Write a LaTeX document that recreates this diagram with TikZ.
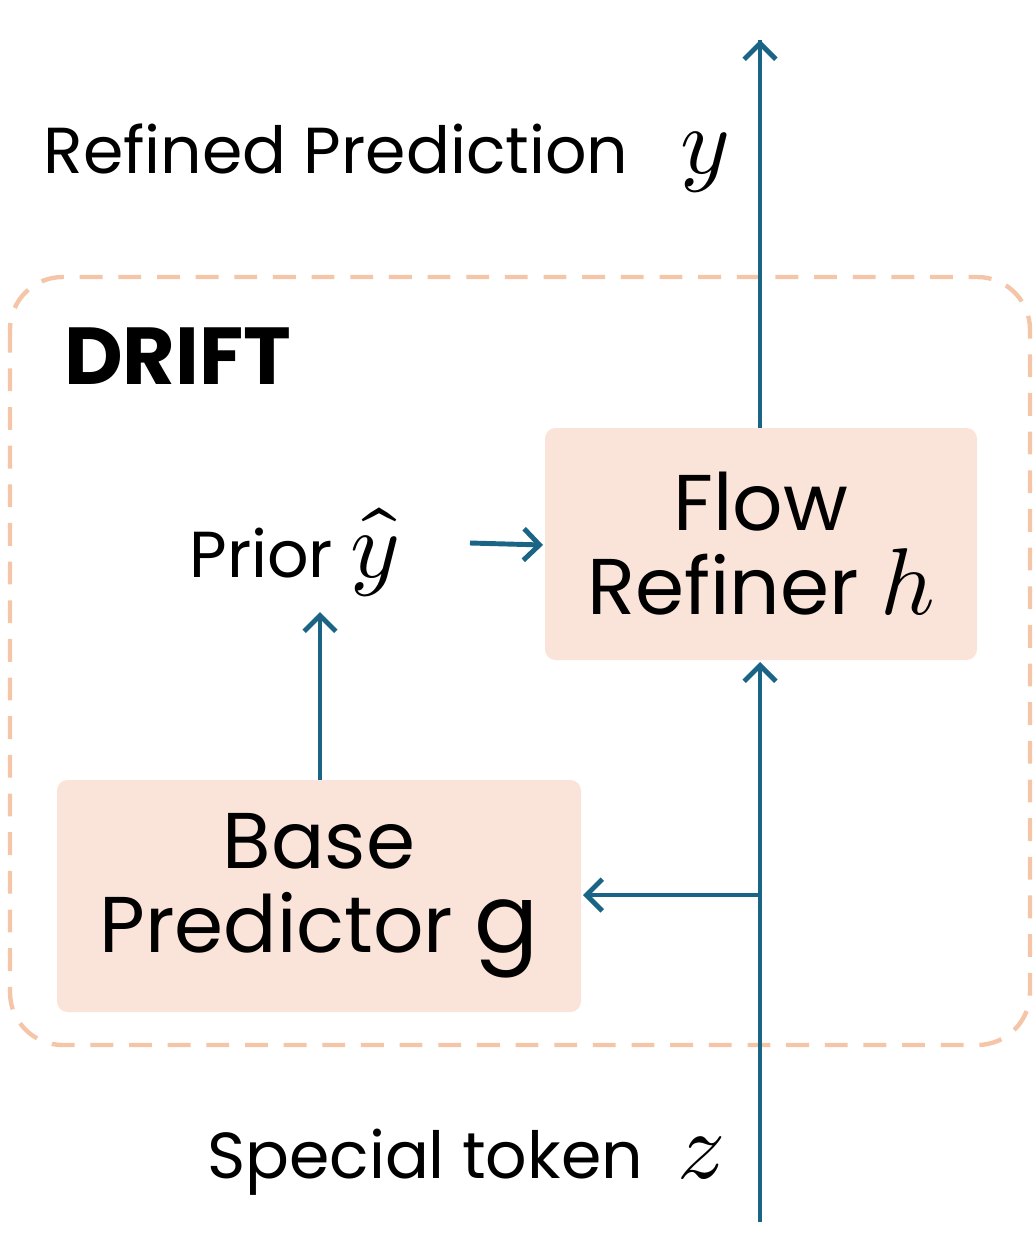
\documentclass[tikz,border=0pt]{standalone}
\usepackage{fontspec}
\usepackage{unicode-math}
\setmainfont{Poppins}
\setmathfont{Latin Modern Math}
\usetikzlibrary{positioning,arrows.meta}
\definecolor{flowblue}{HTML}{1A6585}
\definecolor{peach}{HTML}{FAE3D8}
\definecolor{peachline}{HTML}{F5C5A8}
\newcommand{\largemath}[1]{{\fontsize{54}{60}\selectfont$#1$}}
\tikzstyle{blk}=[%
      rectangle, align=center,
      font=\fontsize{45}{52}\selectfont, inner sep=0pt
]
\tikzstyle{lbl}=[%
      font=\fontsize{37}{44}\selectfont, inner sep=0pt
]
\begin{document}
\begin{tikzpicture}[x=0.02cm,y=-0.02cm,
    arr/.style={flowblue, line width=2.8pt, -{Straight Barb[length=9pt,width=18pt,line width=2.8pt]}}
  ]
    \useasboundingbox (0,0) rectangle (1035,1237);
    \draw[peachline, line width=2.5pt, dash pattern=on 13pt off 9pt, rounded corners=30pt]
      (10,277) rectangle (1030,1045);
    \node[anchor=west, font=\fontsize{46}{52}\selectfont\bfseries] (drift) at (58,356) {DRIFT};

    \path[fill=peach, rounded corners=6pt] (545,428) rectangle (977,660);
    \node[blk] (flow) at (761,544) {Flow\\[-4pt]Refiner \largemath{h}};
    \path[fill=peach, rounded corners=6pt] (57,780) rectangle (581,1012);
    \node[blk] (base) at (319,896) {Base\\[-4pt]Predictor \largemath{\mathrm{g}}};

    \node[lbl, anchor=east] (prior) at (400,552) {Prior \largemath{\hat{y}}};
    \node[lbl, anchor=east] (refined) at (730,158) {Refined Prediction \ \ \largemath{y}};
    \node[lbl, anchor=east] (token) at (725,1162) {Special token \ \largemath{z}};

    \coordinate (in) at (760,1222);
    \coordinate (split) at (760,895);
    \coordinate (out) at (760,40);
    \draw[arr] (in) -- (760,662);
    \draw[arr] (split) -- (583,895);
    \draw[arr, -] (760,428) -- (out);
    \draw[arr] (760,100) -- (out);
    \draw[arr] (320,780) -- (320,612);
    \draw[arr] (470,543) -- (543,545);
\end{tikzpicture}
\end{document}
